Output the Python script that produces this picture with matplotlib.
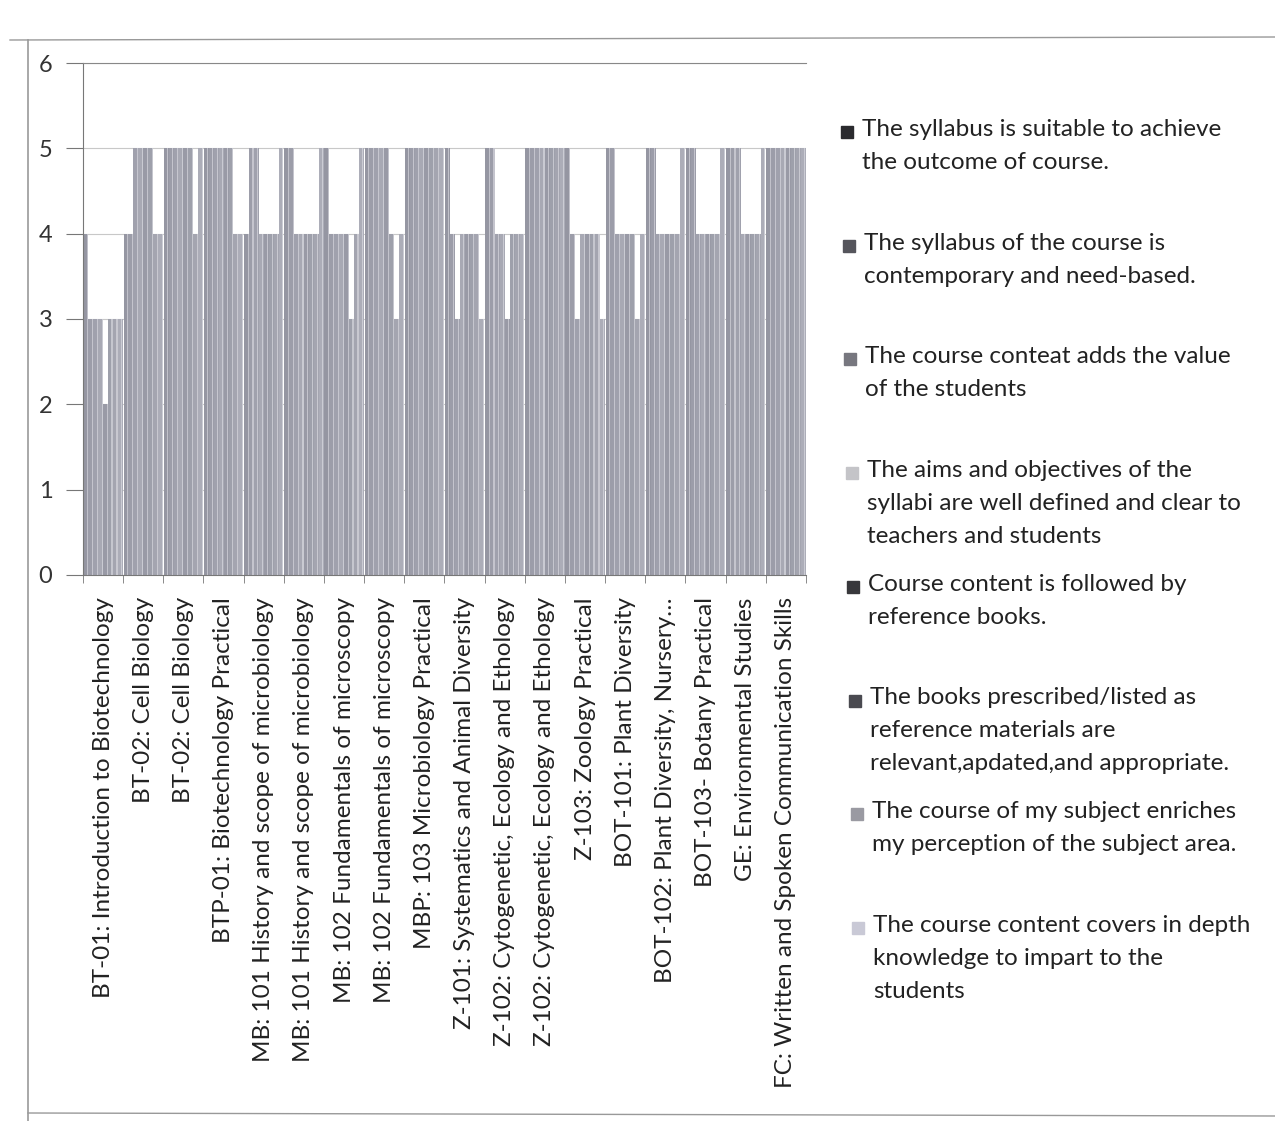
import matplotlib

matplotlib.use("Agg")
import matplotlib.pyplot as plt
import numpy as np
from matplotlib.lines import Line2D
from matplotlib.patches import Rectangle

plt.rcParams["font.family"] = ["Lato", "DejaVu Sans"]

courses = [
    "BT-01: Introduction to Biotechnology",
    "BT-02: Cell Biology",
    "BT-02: Cell Biology",
    "BTP-01: Biotechnology Practical",
    "MB: 101 History and scope of microbiology",
    "MB: 101 History and scope of microbiology",
    "MB: 102 Fundamentals of microscopy",
    "MB: 102 Fundamentals of microscopy",
    "MBP: 103 Microbiology Practical",
    "Z-101: Systematics and Animal Diversity",
    "Z-102: Cytogenetic, Ecology and Ethology",
    "Z-102: Cytogenetic, Ecology and Ethology",
    "Z-103: Zoology Practical",
    "BOT-101: Plant Diversity",
    "BOT-102: Plant Diversity, Nursery…",
    "BOT-103- Botany Practical",
    "GE: Environmental Studies",
    "FC: Written and Spoken Communication Skills",
]

questions = [
    "The syllabus is suitable to achieve\nthe outcome of course.",
    "The syllabus of the course is\ncontemporary and need-based.",
    "The course conteat adds the value\nof the students",
    "The aims and objectives of the\nsyllabi are well defined and clear to\nteachers and students",
    "Course content is followed by\nreference books.",
    "The books prescribed/listed as\nreference materials are\nrelevant,apdated,and appropriate.",
    "The course of my subject enriches\nmy perception of the subject area.",
    "The course content covers in depth\nknowledge to impart to the\nstudents",
]

# rating per course (rows) for each question (columns)
ratings = [
    [4, 3, 3, 3, 2, 3, 3, 3],
    [4, 4, 5, 5, 5, 5, 4, 4],
    [5, 5, 5, 5, 5, 5, 4, 5],
    [5, 5, 5, 5, 5, 5, 4, 4],
    [4, 5, 5, 4, 4, 4, 4, 5],
    [5, 5, 4, 4, 4, 4, 4, 5],
    [5, 4, 4, 4, 4, 3, 4, 5],
    [5, 5, 5, 5, 5, 4, 3, 4],
    [5, 5, 5, 5, 5, 5, 5, 5],
    [5, 4, 3, 4, 4, 4, 4, 3],
    [5, 5, 4, 4, 3, 4, 4, 4],
    [5, 5, 5, 5, 5, 5, 5, 5],
    [5, 4, 3, 4, 4, 4, 4, 3],
    [5, 5, 4, 4, 4, 4, 3, 4],
    [5, 5, 4, 4, 4, 4, 4, 5],
    [5, 5, 4, 4, 4, 4, 4, 5],
    [5, 5, 5, 4, 4, 4, 4, 5],
    [5, 5, 5, 5, 5, 5, 5, 5],
]

bar_colors = ["#9596a2", "#9c9da9", "#a0a1ad", "#a8a9b4", "#999aa6", "#9ea0ab", "#a4a5b0", "#acadb8"]
key_colors = ["#2a2a2e", "#55555c", "#77777f", "#c4c4c8", "#38383c", "#4a4a50", "#9a9aa2", "#c9c9d6"]

W, H = 1275, 1121
fig = plt.figure(figsize=(W / 100, H / 100), dpi=100)
ax = fig.add_axes([83 / W, 1 - 575 / H, (806 - 83) / W, (575 - 63) / H])

vals = np.array(ratings, dtype=float)
n_cat, n_ser = vals.shape
x = np.arange(n_cat)
bw = 0.98 / n_ser

for j in range(n_ser):
    pos = x - 0.49 + bw * (j + 0.5)
    ax.bar(pos, vals[:, j], width=bw, color=bar_colors[j], edgecolor="none", zorder=2)
    # light sheen along the right side of each bar
    ax.bar(pos + bw * 0.32, vals[:, j], width=bw * 0.22, color="#e6e6ec", edgecolor="none",
           alpha=0.55, zorder=3)

ax.set_xlim(-0.5, n_cat - 0.5)
ax.set_ylim(0, 6)
ax.set_yticks(range(7))
ax.yaxis.grid(True, color="#c8c8c8", linewidth=0.8, zorder=0)
ax.set_axisbelow(True)

ax.set_xticks(x)
ax.set_xticklabels(courses, rotation=90, fontsize=17.5, color="#222222")
ax.set_xticks(np.arange(-0.5, n_cat, 1), minor=True)
ax.tick_params(axis="x", which="major", length=0, pad=16)
ax.tick_params(axis="x", which="minor", length=6, color="#777777")
ax.tick_params(axis="y", length=12, color="#777777", labelsize=17, labelcolor="#333333", pad=10)

ax.spines["right"].set_visible(False)
ax.spines["top"].set_color("#888888")
ax.spines["left"].set_color("#777777")
ax.spines["bottom"].set_color("#777777")

# legend keys and text on the right
for i, (q, c) in enumerate(zip(questions, key_colors)):
    ytop = 131 + 113.7 * i
    fig.patches.append(Rectangle(((841 + i * 1.6) / W, 1 - (ytop + 7) / H), 12 / W, 12 / H,
                                 transform=fig.transFigure, color=c, figure=fig))
    fig.text((862 + i * 1.6) / W, 1 - (ytop - 12) / H, q, fontsize=17.5, color="#222222",
             va="top", ha="left", linespacing=1.7)

# page frame
fig.add_artist(Line2D([10 / W, 1], [1 - 40 / H, 1 - 37 / H], transform=fig.transFigure,
                      color="#999999", linewidth=1))
fig.add_artist(Line2D([28 / W, 28 / W], [1 - 40 / H, 0], transform=fig.transFigure,
                      color="#999999", linewidth=1.2))
fig.add_artist(Line2D([28 / W, 1], [1 - 1113 / H, 1 - 1116 / H], transform=fig.transFigure,
                      color="#999999", linewidth=1))

fig.savefig("out.png", dpi=100)
